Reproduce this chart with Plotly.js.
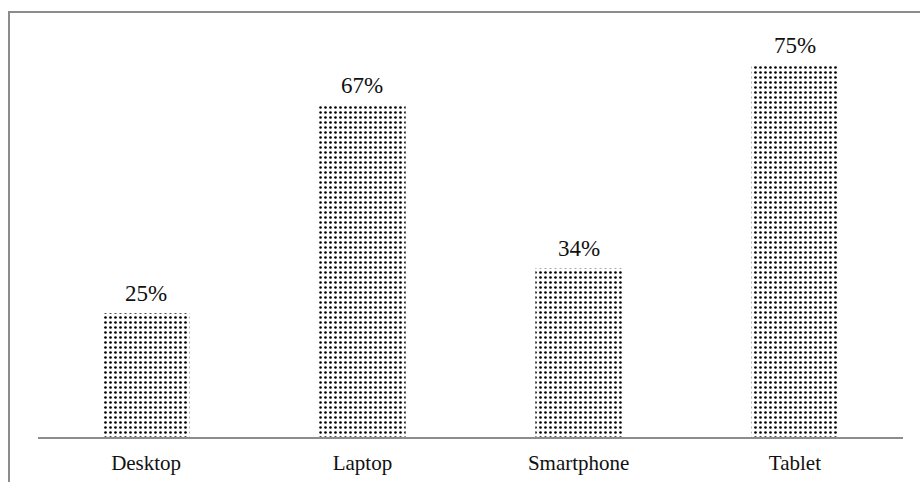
<!DOCTYPE html>
<html>
<head>
<meta charset="utf-8">
<script src="https://cdn.plot.ly/plotly-3.0.1.min.js"></script>
<style>
  html, body { margin: 0; padding: 0; background: #ffffff; }
  #wrap { position: relative; width: 920px; height: 482px; }
  #chart { position: absolute; left: 0; top: 0; width: 920px; height: 482px; }
  #frame {
    position: absolute; left: 8px; top: 11px; width: 912px; height: 471px;
    border-top: 2px solid #8c8c8c; border-left: 2px solid #8c8c8c;
    box-sizing: border-box; pointer-events: none;
  }
</style>
</head>
<body>
<div id="wrap">
  <div id="chart"></div>
  <div id="frame"></div>
</div>
<script>
// Share of users by device type (percent)
const devices = ['Desktop', 'Laptop', 'Smartphone', 'Tablet'];
const shares = [25, 67, 34, 75];

const serif = '"Liberation Serif", "DejaVu Serif", serif';

const bars = {
  type: 'bar',
  x: devices,
  y: shares,
  marker: {
    color: '#ffffff',
    line: { width: 0 },
    pattern: { shape: '.', fgcolor: '#000000', bgcolor: '#ffffff', size: 5, solidity: 0.22 }
  },
  hoverinfo: 'skip'
};

// value labels above each bar
const labels = devices.map((d, i) => ({
  x: d, y: shares[i], xref: 'x', yref: 'y',
  text: shares[i] + '%', showarrow: false,
  yanchor: 'bottom', yshift: 5,
  font: { family: serif, size: 23, color: '#111111' }
}));

const layout = {
  width: 920, height: 482,
  margin: { l: 38, r: 17, t: 20, b: 45 },
  paper_bgcolor: '#ffffff', plot_bgcolor: '#ffffff',
  showlegend: false,
  bargap: 0.6,
  xaxis: {
    type: 'category',
    showline: true, linecolor: '#8c8c8c', linewidth: 2,
    ticks: '', showgrid: false, zeroline: false,
    ticklabelstandoff: 6,
    tickfont: { family: serif, size: 21, color: '#111111' }
  },
  yaxis: {
    range: [0, 84.1], visible: false, showgrid: false, zeroline: false
  },
  annotations: labels
};

Plotly.newPlot('chart', [bars], layout, { displayModeBar: false, staticPlot: true });
</script>
</body>
</html>
